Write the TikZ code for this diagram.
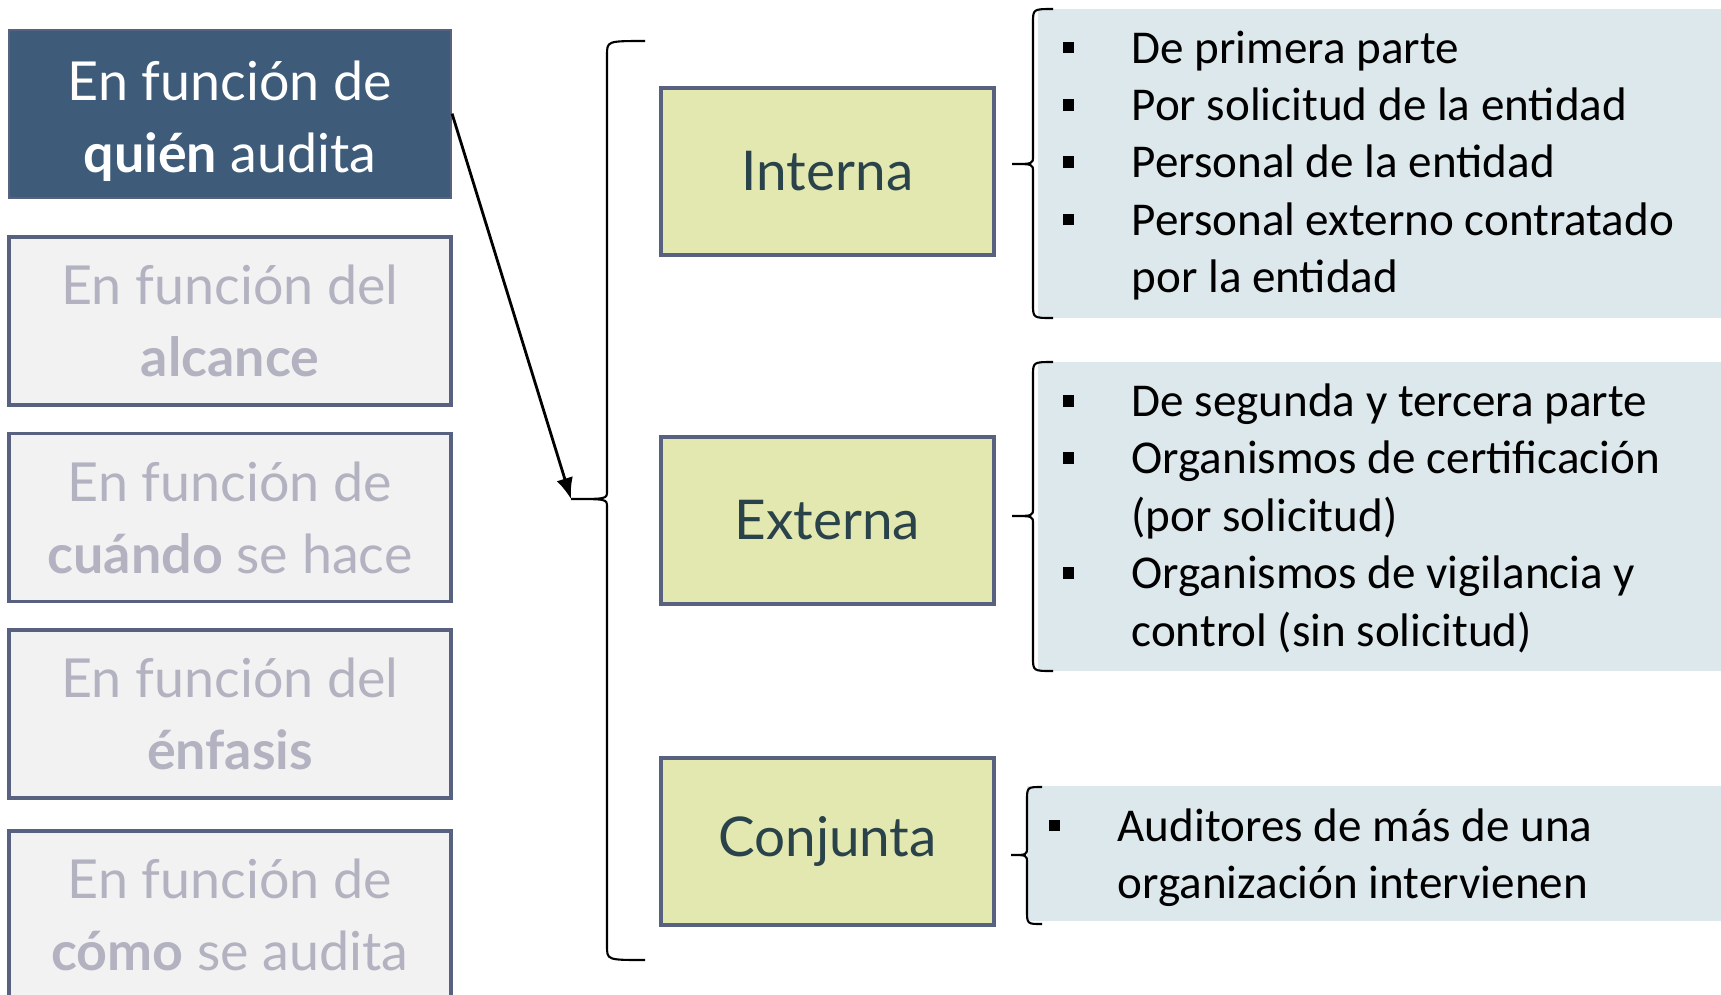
\documentclass[tikz,border=0pt]{standalone}
\usepackage{fontspec}
\newfontfamily\gill{Lato}
\newfontfamily\calibri{Carlito}
\usetikzlibrary{arrows.meta}

\definecolor{oscuro}{HTML}{3E5C79}
\definecolor{borde}{HTML}{596180}
\definecolor{gris}{HTML}{F2F2F2}
\definecolor{grisletra}{HTML}{B2B2C1}
\definecolor{verde}{HTML}{E3E8B0}
\definecolor{verdeletra}{HTML}{2A434A}
\definecolor{azul}{HTML}{DDE8EC}

\newcommand{\vin}{\makebox[19.6pt][l]{\rule[2.8pt]{3.3pt}{3.3pt}}}
\newcommand{\llave}[6]{%
  \draw[line width=.6pt] (#1,#4) .. controls (#2,#4) .. (#2,#4+14) -- (#2,#5-8)
    .. controls (#2,#5) .. (#3,#5) .. controls (#2,#5) .. (#2,#5+8)
    -- (#2,#6-14) .. controls (#2,#6) .. (#1,#6);}

\begin{document}
\begin{tikzpicture}[x=0.1mm, y=-0.1mm, >={Latex[length=6pt,width=4.8pt]},
    caja/.style={draw=borde, line width=.9pt, minimum width=44.2mm, minimum height=16.8mm,
        align=center, font=\gill\fontsize{15.3}{20.5}\selectfont},
    tipo/.style={draw=borde, line width=.9pt, fill=verde, text=verdeletra,
        minimum width=33.3mm, minimum height=16.7mm, font=\gill\fontsize{15.6}{18}\selectfont},
    lista/.style={inner sep=0pt, anchor=base west, font=\calibri\fontsize{13.4}{16.33}\selectfont}]

\useasboundingbox (0,0) rectangle (1721,994);
\clip (0,0) rectangle (1721,994);

    \node[caja, fill=oscuro, text=white, line width=.6pt] (quien) at (230,113.6)
        {\rule{0pt}{15.5pt}En función de\\\textbf{quién} audita};
    \foreach \y/\nom/\txt in {321/alcance/{En función del\\\textbf{alcance}},
        517.5/cuando/{En función de\\\textbf{cuándo} se hace},
        714/enfasis/{En función del\\\textbf{énfasis}},
        915/como/{En función de\\\textbf{cómo} se audita}}
    {
        \node[caja, fill=gris, text=grisletra] (\nom) at (230,\y) {\txt};
    }

\llave{645}{607}{571}{41}{499}{960}
\coordinate (cusp) at (571,499);
\draw[->, line width=.8pt] (quien.east) -- (cusp);

    \node[tipo] (interna) at (827.5,171.5) {Interna};
    \node[tipo] (externa) at (827.5,520.5) {Externa};
    \node[tipo] (conjunta) at (827.5,841.5) {Conjunta};

\fill[azul] (1038,9) rectangle (1721,318);
\fill[azul] (1038,362) rectangle (1721,671);
\fill[azul] (1027,786) rectangle (1721,921);

\llave{1053}{1033}{1012}{9}{164}{318}
\llave{1053}{1033}{1012}{362}{516}{671}
\llave{1042}{1027}{1011}{787}{855}{924}

\node[lista] (listaint) at (1062,63) {\begin{tabular}[t]{@{}l@{}}
    \vin De primera parte\\
    \vin Por solicitud de la entidad\\
    \vin Personal de la entidad\\
    \vin Personal externo contratado\\
    \hspace{19.6pt}por la entidad
\end{tabular}};
\node[lista] (listaext) at (1062,416.5) {\begin{tabular}[t]{@{}l@{}}
    \vin De segunda y tercera parte\\
    \vin Organismos de certificación\\
    \hspace{19.6pt}(por solicitud)\\
    \vin Organismos de vigilancia y\\
    \hspace{19.6pt}control (sin solicitud)
\end{tabular}};
\node[lista] (listacon) at (1048,841) {\begin{tabular}[t]{@{}l@{}}
    \vin Auditores de más de una\\
    \hspace{19.6pt}organización intervienen
\end{tabular}};

\end{tikzpicture}
\end{document}
